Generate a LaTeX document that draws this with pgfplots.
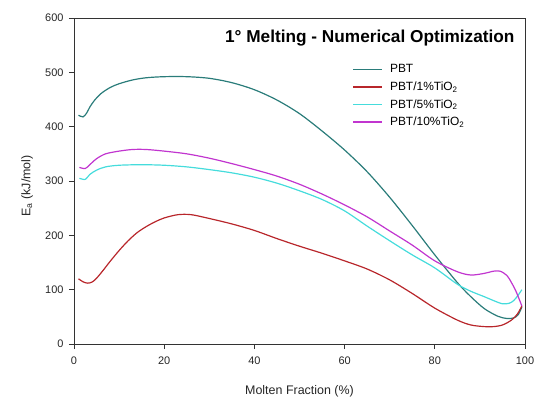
\documentclass[border=0pt]{standalone}
\usepackage{pgfplots}
\pgfplotsset{compat=1.18}
\usepackage{fontspec}
\setmainfont{Liberation Sans}
\definecolor{cPBT}{HTML}{2A7C7A}
\definecolor{cOne}{HTML}{B8262B}
\definecolor{cFive}{HTML}{45DCDC}
\definecolor{cTen}{HTML}{C135CF}
\begin{document}
\begin{tikzpicture}[x=1bp,y=1bp]
\path[use as bounding box] (-74,-53) rectangle (464,344);
\begin{axis}[
  at={(0,0)}, anchor=south west,
  scale only axis, width=451bp, height=326bp,
  xmin=0, xmax=100, ymin=0, ymax=600,
  xtick={0,20,...,100}, ytick={0,100,...,600},
  tick align=outside, xtick pos=left, ytick pos=left,
  major tick length=5bp,
  axis line style={black!80, line width=0.8pt},
  tick style={black!80, line width=0.8pt},
  /pgf/number format/assume math mode=true,
  ticklabel style={font=\fontsize{11}{13}\selectfont, text=black!85},
  xticklabel style={yshift=-4bp},
  yticklabel style={xshift=-2bp},
  xlabel={Molten Fraction (\%)},
  ylabel={E\textsubscript{a} (kJ/mol)},
  label style={font=\fontsize{12.5}{15}\selectfont, text=black!85},
  xlabel style={at={(axis description cs:0.5,-0.145)}, anchor=center},
  ylabel style={at={(axis description cs:-0.104,0.485)}, anchor=center, rotate=0},
  legend style={draw=none, fill=none, at={(axis description cs:0.611,0.87)}, anchor=north west,
    font=\fontsize{12}{14}\selectfont, row sep=3.5bp,
    /tikz/every odd column/.append style={column sep=5bp}},
  legend cell align=left,
  legend image code/.code={\draw[#1, line width=1.3pt] (0bp,0bp) -- (29bp,0bp);},
]
\addplot[cPBT, smooth, line width=1.2pt] coordinates {(1,421)(2,418)(2.8,425)(3.5,436)(4.5,448)(6,461)(8,472)(10,479)(13,486)(16,490)(20,492)(25,492)(30,489)(35,481)(40,468)(45,449)(50,424)(55,392)(60,357)(65,317)(70,270)(75,218)(80,164)(85,113)(88,87)(91,65)(94,51)(96,47)(97.5,48)(98.5,54)(99.3,68)};
\addlegendentry{PBT}
\addplot[cOne, smooth, line width=1.2pt] coordinates {(1,120)(2,114.5)(3,112)(4,114)(5,121)(6.5,136)(8,152)(10,172)(12,190)(14,205)(16,216)(18,225)(20,232)(23,238)(26,238)(30,231)(35,221)(40,209)(45,194)(50,180)(55,167)(60,153)(65,138)(70,118)(75,93)(80,66)(85,44)(88,35)(91,32)(93,32)(95,35)(97,44)(98.3,55)(99.3,70)};
\addlegendentry{PBT/1\%TiO\textsubscript{2}}
\addplot[cFive, smooth, line width=1.2pt] coordinates {(1.2,305)(2.5,303)(3.5,312)(5,320)(7,326)(10,329)(15,330)(20,329)(25,326)(30,321)(35,315)(40,307)(45,296)(50,282)(55,266)(60,245)(65,217)(70,190)(75,164)(80,140)(85,110)(88,97)(91,87)(93,80)(95,74)(96.5,75)(97.5,80)(98.5,90)(99.3,100)};
\addlegendentry{PBT/5\%TiO\textsubscript{2}}
\addplot[cTen, smooth, line width=1.2pt] coordinates {(1.2,325)(2.5,323)(3.5,330)(5,341)(7,350)(10,355)(13,358)(16,358)(20,355)(25,350)(30,342)(35,332)(40,321)(45,309)(50,294)(55,276)(60,256)(65,234)(70,208)(75,182)(80,153)(85,133)(88,127)(91,130)(93,134)(94.5,134)(96,126)(97,113)(98,97)(99.3,70)};
\addlegendentry{PBT/10\%TiO\textsubscript{2}}
\node[anchor=east, font=\bfseries\fontsize{17.3}{20}\selectfont] at (axis description cs:0.9845,0.939) {1° Melting - Numerical Optimization};
\end{axis}
\end{tikzpicture}
\end{document}
